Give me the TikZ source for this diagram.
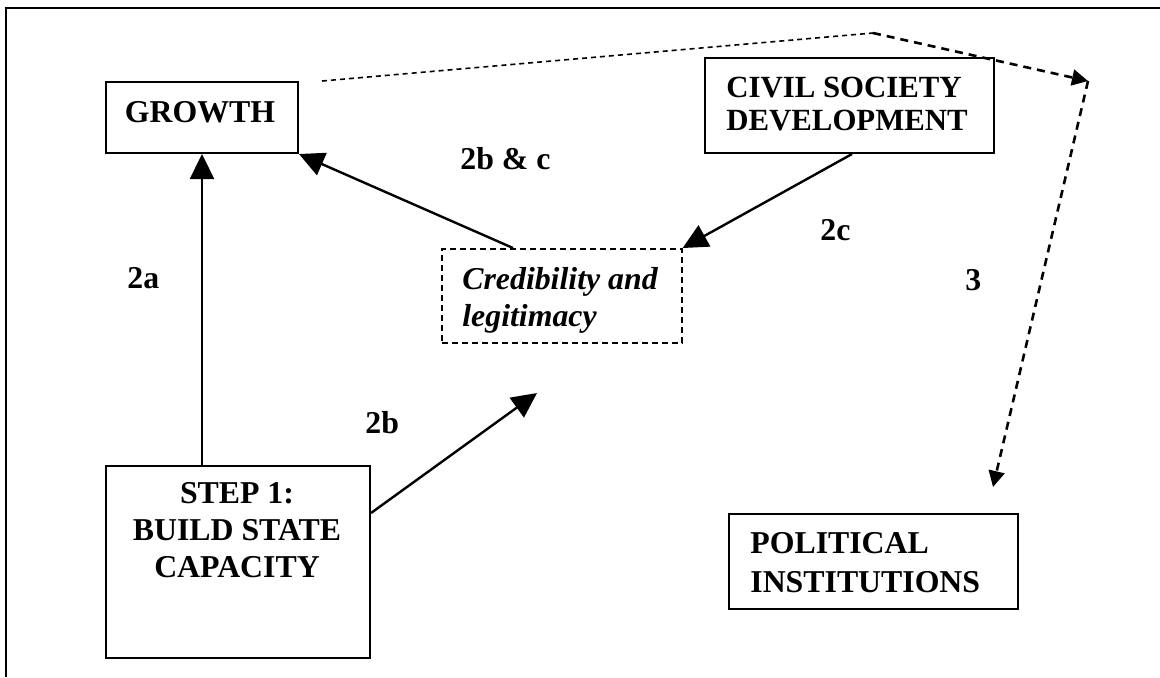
\documentclass[tikz,border=0pt]{standalone}
\usepackage{fontspec}
\setmainfont{Liberation Serif}
\usetikzlibrary{arrows.meta}

\tikzset{
	box/.style={draw, line width=1pt, inner sep=0pt, anchor=north west},
	dashbox/.style={box, line width=0.8pt, dash pattern=on 3pt off 2pt},
	txt/.style={inner sep=0pt, font=\fontsize{15.9}{18.5}\selectfont\bfseries},
	link/.style={line width=1.2pt, -{Triangle[length=12.5pt,width=12pt]}},
	dlink/.style={line width=1.3pt, dash pattern=on 4pt off 3pt, -{Triangle[length=8pt,width=8pt]}}
}

\begin{document}
\begin{tikzpicture}[x=0.5pt, y=-0.5pt]
		\useasboundingbox (0,0) rectangle (1160,677);
		% frame
		\draw[line width=1pt] (6,677) -- (6,8) -- (1160,8);

		% boxes
		\node[box, minimum width=96pt, minimum height=35.5pt] (growth) at (105,81) {};
		\node[box, minimum width=144.5pt, minimum height=47.5pt] (civil) at (704,57) {};
		\node[dashbox, minimum width=120pt, minimum height=47pt] (cred) at (441,248) {};
		\node[box, minimum width=132pt, minimum height=96pt] (step) at (105,465) {};
		\node[box, minimum width=144.5pt, minimum height=47.5pt] (political) at (728,513) {};

		% box texts
		\node[txt, anchor=base] (growthtxt) at (200,122) {GROWTH};
		\node[txt, anchor=north west, align=left, font=\fontsize{15.4}{18.5}\selectfont\bfseries] (civiltxt) at (726,77) {CIVIL SOCIETY\\[-2pt]DEVELOPMENT};
		\node[txt, anchor=north west, align=left, font=\fontsize{15.9}{18.5}\selectfont\bfseries\itshape] (credtxt) at (462,267) {Credibility and\\legitimacy};
		\node[txt, anchor=north, align=center] (steptxt) at (237,482) {STEP 1:\\BUILD STATE\\CAPACITY};
		\node[txt, anchor=north west, align=left] (politicaltxt) at (750,532) {POLITICAL\\[1pt]INSTITUTIONS};

		% labels
		\node[txt, anchor=base west] (l2bc) at (460,169) {2b \& c};
		\node[txt, anchor=base west] (l2c) at (820,240) {2c};
		\node[txt, anchor=base west] (l2a) at (127,288) {2a};
		\node[txt, anchor=base west] (l3) at (965,290) {3};
		\node[txt, anchor=base west] (l2b) at (365,433) {2b};

		\coordinate (tip2b) at (537,393);
		\coordinate (peak) at (873,33);
		\coordinate (corner) at (1088,81);
		\coordinate (tip3) at (993,487);

		% arrows
		\draw[link] (growth.south |- step.north) -- (growth.south);
		\draw[link] ([xshift=36pt]cred.north west) -- (growth.south east);
		\draw[link] ([xshift=-71.5pt]civil.south east) -- (cred.north east);
		\draw[link] ([yshift=24.5pt]step.east) -- (tip2b);

		% dashed route
		\draw[line width=0.8pt, dash pattern=on 2.5pt off 2pt] ([xshift=11.5pt]growth.north east) -- (peak);
		\draw[dlink] (peak) -- (corner);
		\draw[dlink] (corner) -- (tip3);
	\end{tikzpicture}
\end{document}
